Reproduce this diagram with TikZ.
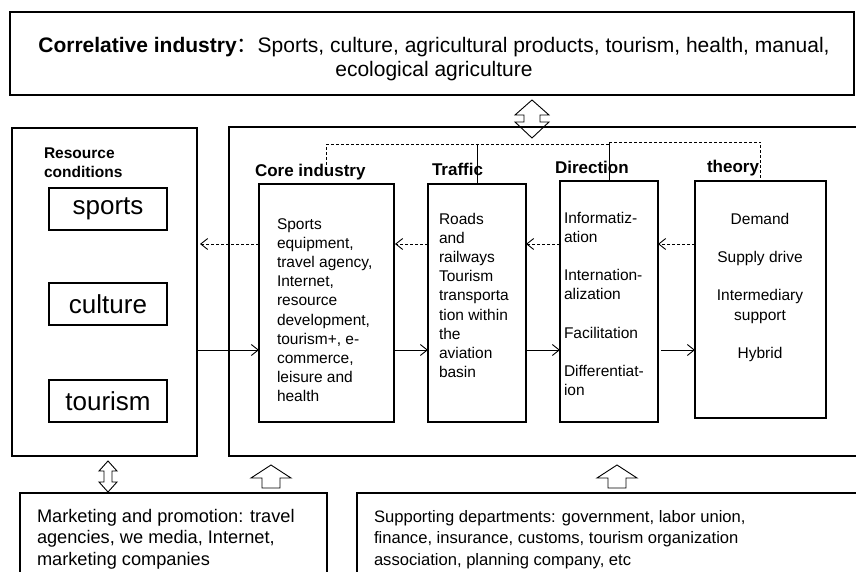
\documentclass[tikz,border=0pt]{standalone}
\usepackage{fontspec}
\setmainfont{Liberation Sans}
\newfontfamily\cjkfont{Noto Sans CJK SC}
\usetikzlibrary{arrows.meta}
\tikzset{
  box/.style={draw, line width=1.1pt, inner sep=0pt, outer sep=0pt, anchor=north west},
  arr/.style={line width=0.9pt, -{Straight Barb[length=7pt,width=11pt]}},
  dsh/.style={line width=0.9pt, dash pattern=on 3pt off 2pt},
  dasharr/.style={dsh, -{Straight Barb[length=7pt,width=11pt]}},
  thin/.style={line width=0.9pt},
  blockarrow/.style={draw, line width=0.9pt, line join=miter},
  txt/.style={inner sep=0pt, outer sep=0pt},
  ttl/.style={txt, anchor=base west, font=\fontsize{17}{20}\selectfont\bfseries},
  body/.style={txt, anchor=base west, font=\fontsize{15.5}{19.1}\selectfont},
  res/.style={box, minimum width=118, minimum height=42, font=\fontsize{26}{30}\selectfont}
}
\begin{document}
\begin{tikzpicture}[x=1pt,y=-1pt]
\useasboundingbox (0,0) rectangle (856,572);
\clip (0,0) rectangle (856,572);

% outer boxes
\node[box, minimum width=844, minimum height=83] (top) at (10,12) {};
\node[box, minimum width=185, minimum height=328] (resbox) at (12,128) {};
\node[box, minimum width=650, minimum height=329] (main) at (229,127) {};
\node[box, minimum width=307, minimum height=100] (mkt) at (20,493) {};
\node[box, minimum width=520, minimum height=100] (sup) at (357,493) {};

% top text
\node[txt, anchor=base, font=\fontsize{21}{24}\selectfont] (toptxt) at (434,52.5)
  {\begin{tabular}[t]{@{}c@{}}\textbf{Correlative industry}{\cjkfont ：}Sports, culture, agricultural products, tourism, health, manual,\\ ecological agriculture\end{tabular}};

% resource conditions
\node[txt, anchor=base west, font=\fontsize{15.5}{19}\selectfont\bfseries] (restitle) at (44,158.5)
  {\begin{tabular}[t]{@{}l@{}}Resource\\conditions\end{tabular}};
\node[res] (sports) at (49,188) {sports};
\node[res] (culture) at (49,283) {culture};
\node[res] (tourism) at (49,380) {tourism};

% inner boxes
\node[box, minimum width=135, minimum height=238] (core) at (259,184) {};
\node[box, minimum width=98, minimum height=238] (traffic) at (428,184) {};
\node[box, minimum width=98, minimum height=241] (direction) at (560,181) {};
\node[box, minimum width=131, minimum height=237] (theory) at (695,181) {};

% titles
\node[ttl] (coretitle) at (255,177) {Core industry};
\node[ttl] (traffictitle) at (432,175.5) {Traffic};
\node[ttl] (directiontitle) at (555,173.5) {Direction};
\node[ttl] (theorytitle) at (707,173) {theory};

% box texts
\node[body] (coretxt) at (277,229.5)
  {\begin{tabular}[t]{@{}l@{}}Sports\\equipment,\\travel agency,\\Internet,\\resource\\development,\\tourism+, e-\\commerce,\\leisure and\\health\end{tabular}};
\node[body] (traffictxt) at (439,224.5)
  {\begin{tabular}[t]{@{}l@{}}Roads\\and\\railways\\Tourism\\transporta\\tion within\\the\\aviation\\basin\end{tabular}};
\node[body] (directiontxt) at (564,223.5)
  {\begin{tabular}[t]{@{}l@{}}Informatiz-\\ation\\ \\Internation-\\alization\\ \\Facilitation\\ \\Differentiat-\\ion\end{tabular}};
\node[body, anchor=base] (theorytxt) at (760,224.5)
  {\begin{tabular}[t]{@{}c@{}}Demand\\ \\Supply drive\\ \\Intermediary\\support\\ \\Hybrid\end{tabular}};

% bottom texts
\node[txt, anchor=base west, font=\fontsize{18.2}{21.5}\selectfont] (mkttxt) at (37,522)
  {\begin{tabular}[t]{@{}l@{}}Marketing and promotion: travel\\agencies, we media, Internet,\\marketing companies\end{tabular}};
\node[txt, anchor=base west, font=\fontsize{16.6}{21.5}\selectfont] (suptxt) at (374,522)
  {\begin{tabular}[t]{@{}l@{}}Supporting departments: government, labor union,\\finance, insurance, customs, tourism organization\\association, planning company, etc\end{tabular}};

% helper coordinates
\coordinate (ysolid) at (0,350);
\coordinate (ydash) at (0,244);
\coordinate (ytreeA) at (0,144);
\coordinate (ytreeB) at (0,142);

% solid arrows
\draw[arr] (resbox.east |- ysolid) -- (core.west |- ysolid);
\draw[arr] (core.east |- ysolid) -- (traffic.west |- ysolid);
\draw[arr] (traffic.east |- ysolid) -- (direction.west |- ysolid);
\draw[arr, shorten <=3pt] (direction.east |- ysolid) -- (theory.west |- ysolid);

% dashed arrows
\draw[dasharr, shorten >=3pt] (core.west |- ydash) -- (resbox.east |- ydash);
\draw[dasharr, shorten >=1pt] (traffic.west |- ydash) -- (core.east |- ydash);
\draw[dasharr] (direction.west |- ydash) -- (traffic.east |- ydash);
\draw[dasharr] (theory.west |- ydash) -- (direction.east |- ydash);

% dashed tree
\draw[dsh] (coretitle.north -| core.north) -- (core.north |- ytreeA) -- (direction.north |- ytreeA);
\draw[thin] (traffic.north |- ytreeA) -- (traffic.north);
\draw[thin] (direction.north |- ytreeB) -- (direction.north);
\draw[dsh] (direction.north |- ytreeB) -- (theory.north |- ytreeB) -- (theory.north);

% block arrows
\draw[blockarrow] (532,100) -- (549,115) -- (540,115) -- (540,122) -- (549,122) -- (532,138)
  -- (515,122) -- (524,122) -- (524,115) -- (515,115) -- cycle;
\draw[blockarrow] (108,461) -- (117,471) -- (112,471) -- (112,482) -- (117,482) -- (108,492)
  -- (99,482) -- (104,482) -- (104,471) -- (99,471) -- cycle;
\draw[blockarrow] (271,465) -- (291,478) -- (280,478) -- (280,488) -- (262,488) -- (262,478) -- (251,478) -- cycle;
\draw[blockarrow] (617,465) -- (637,478) -- (626,478) -- (626,488) -- (608,488) -- (608,478) -- (597,478) -- cycle;
\end{tikzpicture}
\end{document}
